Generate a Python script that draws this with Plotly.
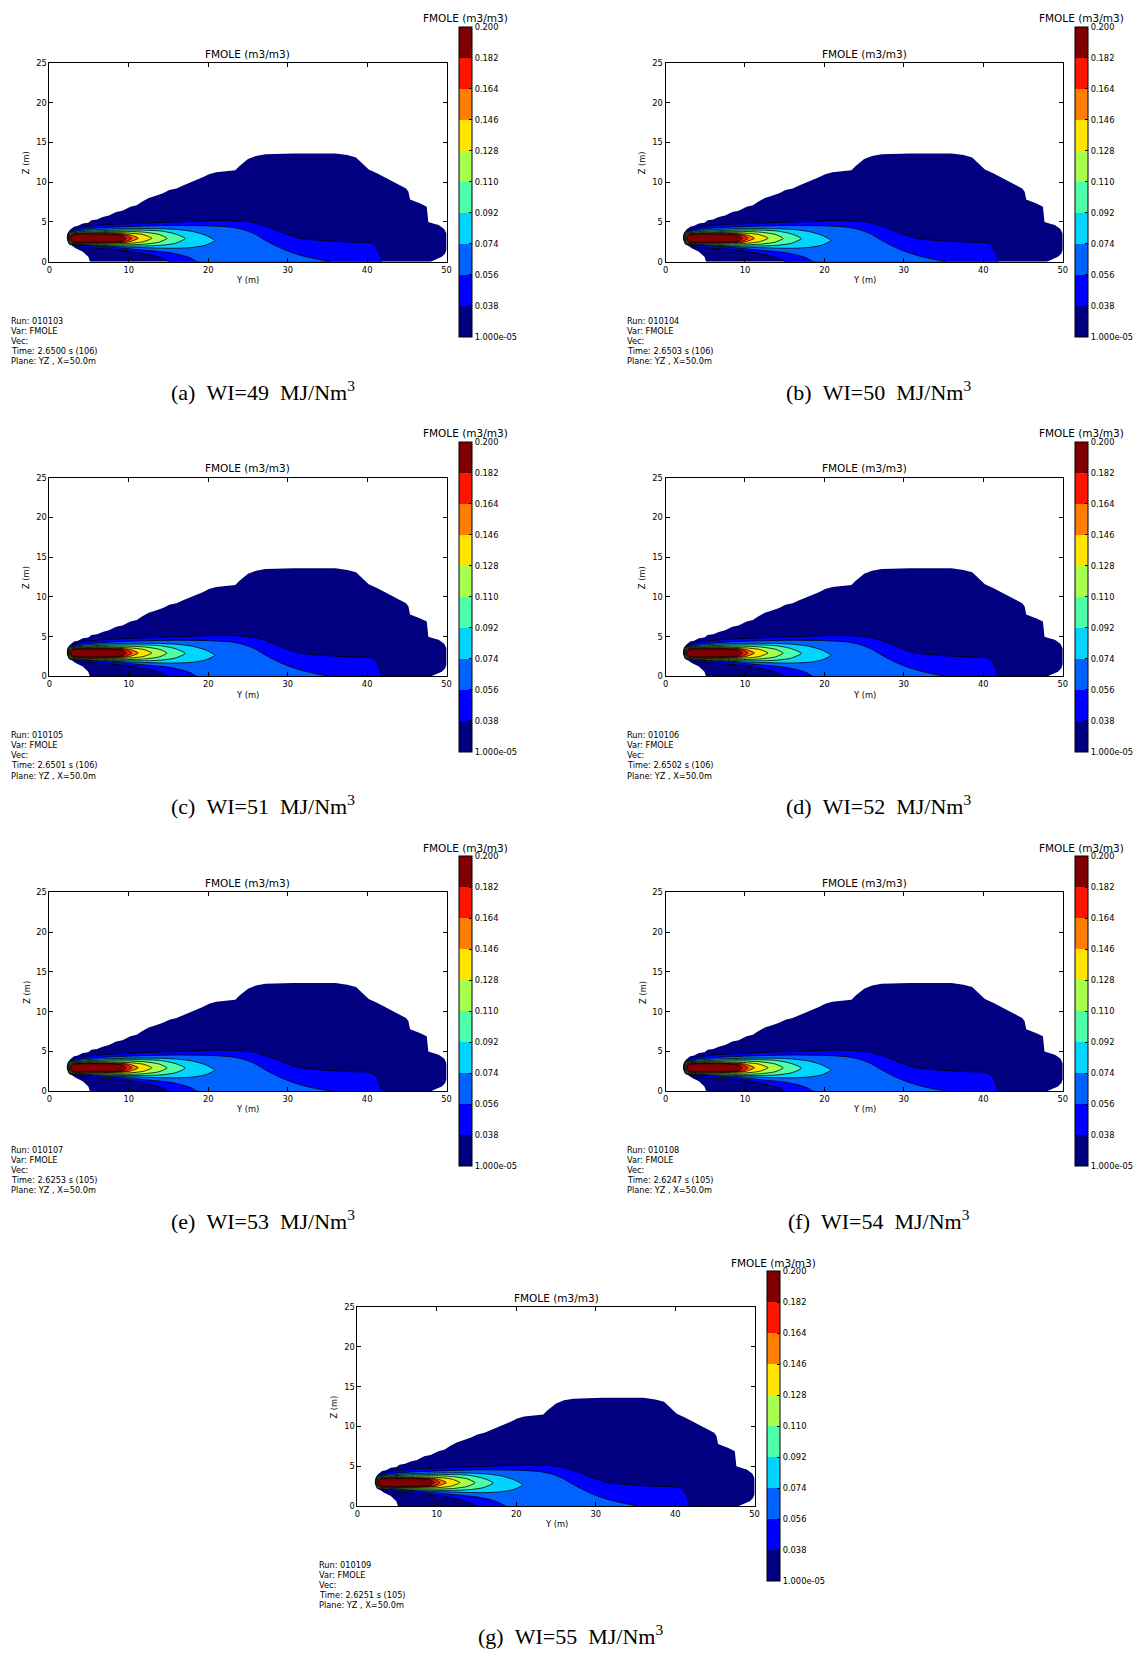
import plotly.graph_objects as go

W, H = 1147, 1660

# ---------------- data ----------------
LEVEL_LABELS = ["1.000e-05", "0.038", "0.056", "0.074", "0.092", "0.110",
                "0.128", "0.146", "0.164", "0.182", "0.200"]
BAND_COLORS = ["#000080", "#0000FF", "#0063FF", "#00D4FF", "#4DFFA9",
               "#A9FF4D", "#FFE500", "#FF7D00", "#FF1400", "#800000"]

RUNS = ["010103", "010104", "010105", "010106", "010107", "010108", "010109"]
TIMES = ["2.6500 s (106)", "2.6503 s (106)", "2.6501 s (106)", "2.6502 s (106)",
         "2.6253 s (105)", "2.6247 s (105)", "2.6251 s (105)"]
WI = [49, 50, 51, 52, 53, 54, 55]
LETTERS = ["a", "b", "c", "d", "e", "f", "g"]

X_TICKS = [0, 10, 20, 30, 40, 50]
Z_TICKS = [0, 5, 10, 15, 20, 25]

# contour boundaries (Y m, Z m)
ENV_Y = [5.1, 4.9, 4.2, 3.3, 2.6, 2.2, 2.3, 2.6, 3.1, 3.6, 4.2, 4.9, 5.3, 6.0, 6.7, 7.5, 8.4, 9.2,
         10.2, 11.0, 11.6, 12.5, 13.4, 14.3, 15.1, 16.0, 16.9, 17.7, 18.5, 19.3, 20.1, 21.0, 23.4,
         23.9, 25.0, 26.0, 27.2, 30.8, 36.0, 37.5, 38.6, 39.4, 40.2, 41.3, 42.6, 43.6, 44.9, 45.2,
         45.4, 46.7, 47.5, 47.6, 47.7, 48.3, 49.0, 49.7, 50.0, 50.0, 49.8, 49.4, 48.5, 48.0]
ENV_Z = [0.0, 0.6, 1.25, 1.7, 2.2, 2.8, 3.5, 4.0, 4.4, 4.5, 4.8, 4.9, 5.2, 5.3, 5.6, 5.8, 6.25, 6.4,
         6.9, 7.1, 7.5, 8.0, 8.3, 8.6, 9.0, 9.2, 9.6, 9.9, 10.2, 10.6, 11.0, 11.25, 11.5,
         12.0, 12.9, 13.3, 13.5, 13.6, 13.6, 13.4, 13.1, 12.3, 11.6, 11.1, 10.4, 9.9, 9.2, 8.8,
         7.8, 7.3, 6.9, 6.0, 5.0, 4.8, 4.6, 4.1, 3.5, 1.5, 1.0, 0.6, 0.2, 0.0]

C038_Y = [2.25, 2.45, 3.5, 5.0, 7.5, 12.0, 16.5, 21.0, 24.0, 25.5, 27.5, 29.6, 31.5, 33.7, 36.0,
          38.0, 40.5, 41.0, 41.3, 41.6, 41.8, 15.0, 14.6, 13.8, 12.9, 11.5, 10.0, 8.0, 5.8, 4.0,
          2.9, 2.45]
C038_Z = [2.95, 3.75, 4.2, 4.45, 4.65, 4.85, 5.0, 5.15, 5.1, 4.95, 4.4, 3.55, 2.95, 2.7, 2.55,
          2.45, 2.35, 2.0, 1.5, 0.8, 0.0, 0.0, 0.25, 0.55, 0.8, 1.1, 1.35, 1.55, 1.7, 1.85,
          2.15, 2.45]

C056_Y = [2.3, 2.5, 4.0, 6.0, 8.0, 12.0, 16.0, 20.0, 22.9, 24.5, 25.8, 27.0, 28.3, 29.6, 30.8,
          32.0, 33.5, 35.3, 18.6, 17.8, 16.5, 15.0, 12.0, 8.0, 6.0, 4.0, 2.5]
C056_Z = [2.95, 3.7, 4.05, 4.22, 4.33, 4.48, 4.55, 4.5, 4.33, 4.0, 3.5, 2.8, 2.1, 1.5, 1.05,
          0.7, 0.35, 0.0, 0.0, 0.45, 0.85, 1.15, 1.45, 1.8, 1.95, 2.05, 2.2]

C074_Y = [2.35, 2.55, 4, 6, 8, 10, 12, 14, 16, 18, 19.6, 20.8, 19.6, 18, 16, 14, 12, 10, 8, 6, 4, 2.55]
C074_Z = [2.95, 3.65, 3.9, 4.03, 4.1, 4.15, 4.16, 4.14, 4.05, 3.8, 3.35, 2.65, 2.05, 1.78, 1.68,
          1.7, 1.76, 1.82, 1.9, 2.0, 2.1, 2.25]

C092_Y = [2.4, 2.6, 4, 6, 8, 10, 12, 14, 15.8, 17.1, 15.8, 14, 12, 10, 8, 6, 4, 2.6]
C092_Z = [2.95, 3.6, 3.78, 3.88, 3.94, 3.97, 3.96, 3.86, 3.5, 2.9, 2.3, 2.05, 1.97, 1.97, 2.0,
          2.05, 2.15, 2.3]

C110_Y = [2.45, 2.65, 4, 6, 8, 10, 12, 13.8, 14.8, 13.8, 12, 10, 8, 6, 4, 2.65]
C110_Z = [2.95, 3.55, 3.7, 3.76, 3.8, 3.8, 3.7, 3.42, 2.93, 2.45, 2.2, 2.12, 2.12, 2.15, 2.22, 2.35]

C128_Y = [2.5, 2.7, 4, 6, 8, 10, 11.8, 12.9, 11.8, 10, 8, 6, 4, 2.7]
C128_Z = [2.95, 3.5, 3.62, 3.66, 3.66, 3.6, 3.4, 2.95, 2.5, 2.3, 2.25, 2.25, 2.28, 2.4]

C146_Y = [2.55, 2.75, 4, 6, 8, 10, 11.2, 10, 8, 6, 4, 2.75]
C146_Z = [2.95, 3.45, 3.56, 3.58, 3.56, 3.42, 2.95, 2.48, 2.36, 2.33, 2.34, 2.45]

C164_Y = [2.6, 2.8, 4, 6, 8, 9.6, 10.4, 9.6, 8, 6, 4, 2.8]
C164_Z = [2.95, 3.4, 3.5, 3.5, 3.48, 3.38, 2.95, 2.52, 2.42, 2.4, 2.4, 2.5]

C182_Y = [2.7, 2.9, 4, 6, 8, 9.2, 9.7, 9.2, 8, 6, 4, 2.9]
C182_Z = [2.95, 3.35, 3.45, 3.45, 3.42, 3.3, 2.95, 2.6, 2.48, 2.45, 2.45, 2.55]

CONTOURS = [(ENV_Y, ENV_Z), (C038_Y, C038_Z), (C056_Y, C056_Z), (C074_Y, C074_Z),
            (C092_Y, C092_Z), (C110_Y, C110_Z), (C128_Y, C128_Z), (C146_Y, C146_Z),
            (C164_Y, C164_Z), (C182_Y, C182_Z)]

# ---------------- layout geometry (pixels) ----------------
BASE_L, BASE_R, BASE_T, BASE_B = 46.7, 446.7, 58.2, 258.2
OFFSETS = [(0, 0), (620.5, 0), (0, 417.3), (620.5, 417.3),
           (0, 834.6), (620.5, 834.6), (310.2, 1251.9)]

SANS = "DejaVu Sans"
SERIF = "Liberation Serif"

fig = go.Figure()
annotations = []


def px(x):
    return x / W


def py(y):
    return 1 - y / H


colorscale = []
n = len(BAND_COLORS)
for i, c in enumerate(BAND_COLORS):
    colorscale.append([i / n, c])
    colorscale.append([(i + 1) / n, c])

for i, (dx, dy) in enumerate(OFFSETS):
    sfx = "" if i == 0 else str(i + 1)
    xref, yref = "x" + sfx, "y" + sfx

    for k, (cy, cz) in enumerate(CONTOURS):
        if k == 0:
            line = dict(width=0, color=BAND_COLORS[0])
        else:
            line = dict(width=0.8, color="black", shape="spline", smoothing=0.6)
        fig.add_trace(go.Scatter(
            x=cy + [cy[0]], y=cz + [cz[0]], xaxis=xref, yaxis=yref,
            mode="lines", fill="toself", fillcolor=BAND_COLORS[k],
            line=line, hoverinfo="skip", showlegend=False))

    # colorbar carrier
    fig.add_trace(go.Scatter(
        x=[-100], y=[-100], xaxis=xref, yaxis=yref, mode="markers",
        marker=dict(size=1, opacity=0, color=[0], cmin=0, cmax=10,
                    colorscale=colorscale, showscale=True,
                    colorbar=dict(
                        x=px(459.2 + dx), xanchor="left", xref="paper",
                        y=py(22.0 + dy), yanchor="top", yref="paper",
                        len=310, lenmode="pixels", thickness=12.5,
                        thicknessmode="pixels", xpad=0, ypad=0,
                        outlinewidth=1, outlinecolor="black",
                        tickmode="array", tickvals=list(range(11)),
                        ticktext=LEVEL_LABELS, ticks="inside", ticklen=3,
                        tickcolor="black",
                        tickfont=dict(family=SANS, size=8.3, color="black"))),
        hoverinfo="skip", showlegend=False))

    axis_common = dict(showline=True, linecolor="black", linewidth=1, mirror="ticks",
                       ticks="inside", ticklen=4, tickwidth=1, tickcolor="black",
                       showgrid=False, zeroline=False, fixedrange=True,
                       tickfont=dict(family=SANS, size=8.3, color="black"))
    fig.update_layout({
        "xaxis" + sfx: dict(domain=[px(BASE_L + dx), px(BASE_R + dx)], range=[0, 50],
                            tickmode="array", tickvals=X_TICKS, anchor=yref, **axis_common),
        "yaxis" + sfx: dict(domain=[py(BASE_B + dy), py(BASE_T + dy)], range=[0, 25],
                            tickmode="array", tickvals=Z_TICKS, anchor=xref, **axis_common),
    })

    def ann(text, x, y, size, family=SANS, xanchor="center", angle=0):
        annotations.append(dict(text=text, x=px(x), y=py(y), xref="paper", yref="paper",
                                xanchor=xanchor, yanchor="middle", showarrow=False,
                                textangle=angle,
                                font=dict(family=family, size=size, color="black")))

    ann("FMOLE (m3/m3)", (BASE_L + BASE_R) / 2 + dx, 49 + dy, 10.5)
    ann("FMOLE (m3/m3)", 466 + dx, 13.5 + dy, 10.5)
    ann("Y (m)", (BASE_L + BASE_R) / 2 + dx, 276.5 + dy, 8.3)
    ann("Z (m)", 23.3 + dx, 159 + dy, 8.3, angle=-90)
    lines = ["Run: " + RUNS[i], "Var: FMOLE", "Vec:", "Time: " + TIMES[i],
             "Plane: YZ , X=50.0m"]
    for j, t in enumerate(lines):
        ann(t, 6 + dx, 317.5 + 10.1 * j + dy, 8.2, xanchor="left")
    ann("(%s)\u00a0\u00a0WI=%d\u00a0\u00a0MJ/Nm<sup>3</sup>" % (LETTERS[i], WI[i]),
        261.6 + dx, 388 + dy, 22, family=SERIF)

fig.update_layout(width=W, height=H, autosize=False,
                  margin=dict(l=0, r=0, t=0, b=0, pad=0),
                  paper_bgcolor="white", plot_bgcolor="white",
                  annotations=annotations, showlegend=False)

fig.write_html("out.html")
